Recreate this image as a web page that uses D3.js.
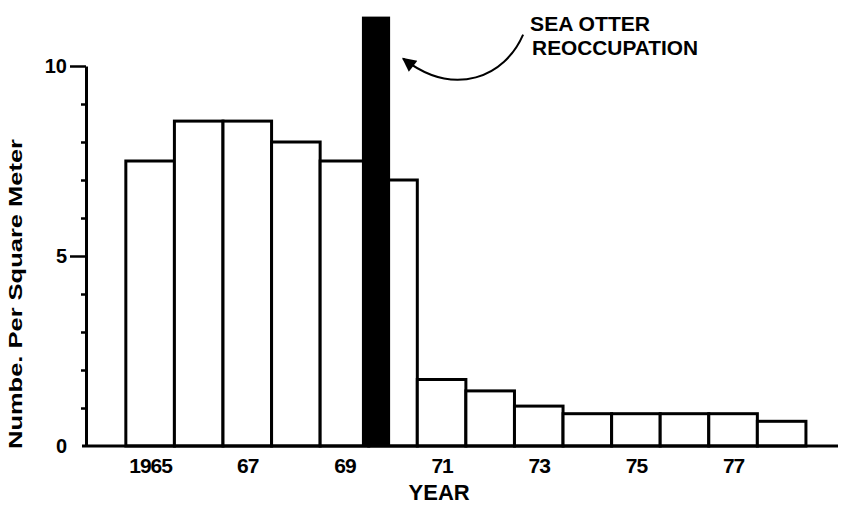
<!DOCTYPE html>
<html>
<head>
<meta charset="utf-8">
<script src="https://cdn.jsdelivr.net/npm/d3@7"></script>
<style>
  body { margin: 0; background: #fff; }
  text { font-family: "Liberation Sans", Arial, sans-serif; fill: #000; }
</style>
</head>
<body>
<div id="chart"></div>
<script>
// data
var years = [1965, 1966, 1967, 1968, 1969, 1970, 1971, 1972, 1973, 1974, 1975, 1976, 1977, 1978];
var density = [7.5, 8.55, 8.55, 8.0, 7.5, 7.0, 1.75, 1.45, 1.05, 0.85, 0.85, 0.85, 0.85, 0.65];
var tickYears = [1965, 1967, 1969, 1971, 1973, 1975, 1977];
var tickLabels = ["1965", "67", "69", "71", "73", "75", "77"];
var reoccupation = [1969.36, 1969.94];   // span of the black bar, years
var reoccupationTop = 11.3;
var majorTicks = [0, 5, 10];
var minorTicks = [1, 2, 3, 4, 6, 7, 8, 9];

// set the dimensions and margins of the graph
var margin = {top: 66, right: 3, bottom: 59, left: 86},
    width = 841 - margin.left - margin.right,
    height = 505 - margin.top - margin.bottom;

var svg = d3.select("#chart")
  .append("svg")
    .attr("width", 841)
    .attr("height", 505)
  .append("g")
    .attr("transform", "translate(" + margin.left + "," + margin.top + ")");

// scales
var x = d3.scaleLinear()
  .domain([1963.68, 1979.16])
  .range([0, width]);

var y = d3.scaleLinear()
  .domain([0, 10])
  .range([height, 0]);

// bars
svg.selectAll("mybar")
  .data(years)
  .enter()
  .append("rect")
    .attr("x", function(d) { return x(d - 0.5); })
    .attr("width", function(d) { return x(d + 0.5) - x(d - 0.5); })
    .attr("y", function(d, i) { return y(density[i]); })
    .attr("height", function(d, i) { return y(0) - y(density[i]); })
    .attr("fill", "#fff")
    .attr("stroke", "#000")
    .attr("stroke-width", 3);

// the black reoccupation bar
svg.append("rect")
  .attr("x", x(reoccupation[0]))
  .attr("width", x(reoccupation[1]) - x(reoccupation[0]))
  .attr("y", y(reoccupationTop))
  .attr("height", y(0) - y(reoccupationTop))
  .attr("fill", "#000");

// baseline
svg.append("line")
  .attr("x1", -4)
  .attr("x2", width)
  .attr("y1", y(0))
  .attr("y2", y(0))
  .attr("stroke", "#000")
  .attr("stroke-width", 3);

// x labels (no tick marks)
svg.append("g")
  .attr("transform", "translate(0," + height + ")")
  .call(d3.axisBottom(x)
    .tickValues(tickYears)
    .tickSize(0)
    .tickPadding(12)
    .tickFormat(function(d, i) { return tickLabels[i]; }))
  .call(function(g) { g.select(".domain").remove(); })
  .selectAll("text")
    .style("font-size", "21px")
    .style("font-weight", "bold")
    .style("letter-spacing", "-1px");

// Y axis, major ticks
var yAxis = svg.append("g")
  .call(d3.axisLeft(y)
    .tickValues(majorTicks)
    .tickSize(16)
    .tickSizeOuter(0)
    .tickPadding(3)
    .tickFormat(d3.format("d")));
yAxis.select(".domain").attr("stroke-width", 3);
yAxis.selectAll(".tick line").attr("stroke-width", 2.5)
  .filter(function(d) { return d === 0; }).remove();
yAxis.selectAll("text")
  .style("font-size", "20px")
  .style("font-weight", "bold");

// minor ticks
svg.append("g")
  .call(d3.axisLeft(y)
    .tickValues(minorTicks)
    .tickSize(5)
    .tickFormat(""))
  .call(function(g) { g.select(".domain").remove(); })
  .selectAll(".tick line").attr("stroke-width", 2.5);

// axis titles
svg.append("text")
  .attr("x", x(1970.95))
  .attr("y", height + 54)
  .attr("text-anchor", "middle")
  .style("font-size", "22px")
  .style("font-weight", "bold")
  .text("YEAR");

svg.append("text")
  .attr("transform", "translate(" + (-64) + "," + y(4) + ")rotate(-90)")
  .attr("text-anchor", "middle")
  .attr("textLength", 310)
  .attr("lengthAdjust", "spacingAndGlyphs")
  .style("font-size", "19px")
  .style("font-weight", "bold")
  .text("Numbe. Per Square Meter");

// annotation
var ax = x(reoccupation[1]), ay = y(reoccupationTop);
svg.append("text")
  .attr("x", ax + 140)
  .attr("y", ay + 14)
  .attr("textLength", 120)
  .attr("lengthAdjust", "spacingAndGlyphs")
  .style("font-size", "21px")
  .style("font-weight", "bold")
  .text("SEA OTTER");
svg.append("text")
  .attr("x", ax + 142)
  .attr("y", ay + 38)
  .attr("textLength", 166)
  .attr("lengthAdjust", "spacingAndGlyphs")
  .style("font-size", "21px")
  .style("font-weight", "bold")
  .text("REOCCUPATION");

svg.append("defs").append("marker")
  .attr("id", "head")
  .attr("viewBox", "0 0 10 10")
  .attr("refX", 9).attr("refY", 5)
  .attr("markerWidth", 8).attr("markerHeight", 7)
  .attr("markerUnits", "strokeWidth")
  .attr("orient", "auto")
  .append("path")
    .attr("d", "M0,0L10,5L0,10z")
    .attr("fill", "#000");

svg.append("path")
  .attr("d", "M" + (ax + 133) + "," + (ay + 18) +
             "C" + (ax + 115) + "," + (ay + 60) + " " + (ax + 65) + "," + (ay + 82) +
             " " + (ax + 13) + "," + (ay + 42))
  .attr("fill", "none")
  .attr("stroke", "#000")
  .attr("stroke-width", 2)
  .attr("marker-end", "url(#head)");
</script>
</body>
</html>
